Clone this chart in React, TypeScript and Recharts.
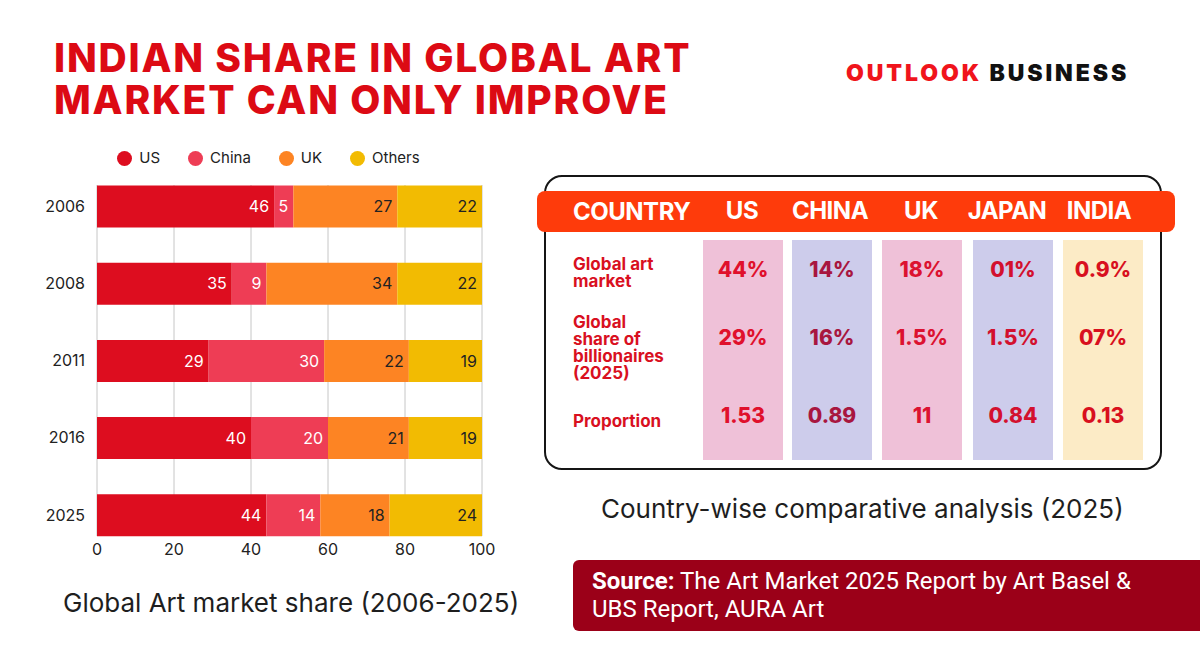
import React from "react";
import {
  BarChart,
  Bar,
  XAxis,
  YAxis,
  CartesianGrid,
  Legend,
  LabelList,
} from "recharts";

const years = ["2006", "2008", "2011", "2016", "2025"];
const usShare = [46, 35, 29, 40, 44];
const chinaShare = [5, 9, 30, 20, 14];
const ukShare = [27, 34, 22, 21, 18];
const othersShare = [22, 22, 19, 19, 24];
const xTicks = [0, 20, 40, 60, 80, 100];

const tableCountries = ["US", "CHINA", "UK", "JAPAN", "INDIA"];
const tableRowLabels = [
  "Global art\nmarket",
  "Global\nshare of\nbillionaires\n(2025)",
  "Proportion",
];
const artMarketShare = ["44%", "14%", "18%", "01%", "0.9%"];
const billionaireShare = ["29%", "16%", "1.5%", "1.5%", "07%"];
const proportionValues = ["1.53", "0.89", "11", "0.84", "0.13"];

const series = [
  { key: "us", name: "US", color: "#dd0d1f", labelColor: "#ffffff" },
  { key: "china", name: "China", color: "#ee3d55", labelColor: "#ffffff" },
  { key: "uk", name: "UK", color: "#fd8423", labelColor: "#222222" },
  { key: "others", name: "Others", color: "#f2bb02", labelColor: "#222222" },
];

const data = years.map((year, i) => ({
  year,
  us: usShare[i],
  china: chinaShare[i],
  uk: ukShare[i],
  others: othersShare[i],
}));

// table layout (pixels)
const colLefts = [703, 792, 882, 973, 1063];
const colFills = ["#efc1d8", "#cdcceb", "#efc1d8", "#cdcceb", "#fcebc6"];
const valueColors = ["#e0102c", "#a8163f", "#dc1230", "#d3102e", "#d8101e"];
const headerCenters = [742, 830, 921, 1007, 1099];
const rowLabelTops = [255.5, 313.5, 412.5];
const valueTops = [257.5, 326, 404];
const tableRows = [artMarketShare, billionaireShare, proportionValues];

const RED = "#dc0a14";

function renderLegend(props: any) {
  const payload = props.payload || [];
  // keep the series order rather than the legend's sorted order
  const items = series
    .map((s) => payload.find((p: any) => p.dataKey === s.key || p.value === s.name))
    .filter(Boolean);
  return (
    <div
      style={{
        height: 40,
        display: "flex",
        justifyContent: "center",
        alignItems: "flex-start",
        gap: 28,
        paddingLeft: 55,
        paddingTop: 5,
        boxSizing: "border-box",
      }}
    >
      {items.map((p: any) => (
        <div
          key={p.value}
          style={{ display: "flex", alignItems: "center", gap: 7, height: 16 }}
        >
          <span
            style={{
              width: 15,
              height: 15,
              borderRadius: "50%",
              background: p.color,
              display: "inline-block",
            }}
          />
          <span style={{ fontSize: 15, color: "#222", lineHeight: "16px" }}>
            {p.value}
          </span>
        </div>
      ))}
    </div>
  );
}

const titleStyle: React.CSSProperties = {
  position: "absolute",
  left: 54,
  fontSize: 39,
  lineHeight: "41px",
  height: 41,
  fontWeight: 800,
  color: RED,
  whiteSpace: "nowrap",
  letterSpacing: 1.8,
};

export default function App() {
  return (
    <div
      style={{
        position: "absolute",
        left: 0,
        top: 0,
        width: 1200,
        height: 652,
        background: "#fff",
        fontFamily: "Inter, sans-serif",
        overflow: "hidden",
      }}
    >
      <div style={{ ...titleStyle, top: 37 }}>INDIAN SHARE IN GLOBAL ART</div>
      <div style={{ ...titleStyle, top: 78.5 }}>MARKET CAN ONLY IMPROVE</div>

      <div
        style={{
          position: "absolute",
          left: 846,
          top: 58,
          fontSize: 23,
          lineHeight: "30px",
          fontWeight: 900,
          letterSpacing: 2.9,
          whiteSpace: "nowrap",
        }}
      >
        <span style={{ color: "#f0141c" }}>OUTLOOK</span>{" "}
        <span style={{ color: "#111" }}>BUSINESS</span>
      </div>

      <div style={{ position: "absolute", left: 0, top: 140 }}>
        <BarChart
          width={520}
          height={430}
          data={data}
          layout="vertical"
          margin={{ top: 5, right: 38, bottom: 4, left: 0 }}
          barSize={42}
        >
          <CartesianGrid horizontal={false} stroke="#c6c6c6" />
          <XAxis
            type="number"
            domain={[0, 100]}
            ticks={xTicks}
            interval={0}
            axisLine={false}
            tickLine={false}
            tickSize={0}
            tickMargin={8}
            height={30}
            tick={{ fontSize: 16, fill: "#222" }}
          />
          <YAxis
            type="category"
            dataKey="year"
            width={97}
            axisLine={false}
            tickLine={false}
            tickSize={0}
            tickMargin={12}
            padding={{ top: -17.5, bottom: -17.5 }}
            tick={{ fontSize: 16, fill: "#222" }}
          />
          <Legend verticalAlign="top" content={renderLegend} />
          {series.map((s) => (
            <Bar
              key={s.key}
              dataKey={s.key}
              name={s.name}
              stackId="share"
              fill={s.color}
              isAnimationActive={false}
            >
              <LabelList
                dataKey={s.key}
                position="insideRight"
                offset={5}
                fill={s.labelColor}
                fontSize={16}
              />
            </Bar>
          ))}
        </BarChart>
      </div>

      <div
        style={{
          position: "absolute",
          left: 63,
          top: 589,
          fontSize: 26,
          lineHeight: "28px",
          color: "#1e1e1e",
          whiteSpace: "nowrap",
        }}
      >
        Global Art market share (2006-2025)
      </div>

      {/* comparison table */}
      <div
        style={{
          position: "absolute",
          left: 544,
          top: 175,
          width: 618,
          height: 295,
          border: "2px solid #151515",
          borderRadius: 18,
          boxSizing: "border-box",
        }}
      />
      <div
        style={{
          position: "absolute",
          left: 537,
          top: 190.5,
          width: 638,
          height: 41,
          background: "#fe3b0b",
          borderRadius: 8,
        }}
      />
      <div
        style={{
          position: "absolute",
          left: 573,
          top: 198,
          fontSize: 24,
          lineHeight: "28px",
          fontWeight: 700,
          color: "#fff",
          letterSpacing: -0.5,
        }}
      >
        COUNTRY
      </div>
      {tableCountries.map((c, i) => (
        <div
          key={c}
          style={{
            position: "absolute",
            left: headerCenters[i] - 60,
            width: 120,
            textAlign: "center",
            top: 196.5,
            fontSize: 24,
            lineHeight: "28px",
            fontWeight: 700,
            color: "#fff",
            letterSpacing: -0.5,
          }}
        >
          {c}
        </div>
      ))}
      {colLefts.map((x, i) => (
        <div
          key={"col" + i}
          style={{
            position: "absolute",
            left: x,
            top: 240,
            width: 80,
            height: 220,
            background: colFills[i],
          }}
        />
      ))}
      {tableRowLabels.map((label, r) => (
        <div
          key={label}
          style={{
            position: "absolute",
            left: 573,
            top: rowLabelTops[r],
            fontSize: 17,
            lineHeight: "17px",
            fontWeight: 700,
            color: "#d9101f",
            whiteSpace: "pre-line",
          }}
        >
          {label}
        </div>
      ))}
      {tableRows.map((row, r) =>
        row.map((v, i) => (
          <div
            key={r + "-" + i}
            style={{
              position: "absolute",
              left: colLefts[i],
              width: 80,
              textAlign: "center",
              top: valueTops[r],
              fontSize: 21,
              lineHeight: "24px",
              fontWeight: 800,
              color: valueColors[i],
            }}
          >
            {v}
          </div>
        ))
      )}

      <div
        style={{
          position: "absolute",
          left: 601,
          top: 495,
          fontSize: 26,
          lineHeight: "28px",
          color: "#1e1e1e",
          whiteSpace: "nowrap",
        }}
      >
        Country-wise comparative analysis (2025)
      </div>

      <div
        style={{
          position: "absolute",
          left: 573,
          top: 560,
          width: 627,
          height: 71,
          background: "#9b0018",
          borderRadius: "6px 0 0 6px",
          boxSizing: "border-box",
          padding: "7px 0 0 19px",
          fontFamily: "Roboto, sans-serif",
          fontSize: 24,
          lineHeight: "28px",
          color: "#fff",
          whiteSpace: "nowrap",
        }}
      >
        <b>Source:</b> The Art Market 2025 Report by Art Basel &amp;
        <br />
        UBS Report, AURA Art
      </div>
    </div>
  );
}
